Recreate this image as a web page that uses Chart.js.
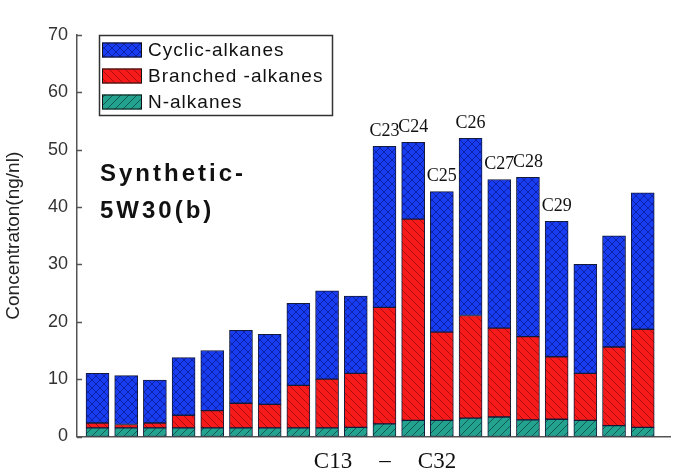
<!DOCTYPE html>
<html>
<head>
<meta charset="utf-8">
<script src="https://cdn.jsdelivr.net/npm/chart.js@4"></script>
<style>
  html, body { margin: 0; padding: 0; background: #fff; }
  #wrap { width: 678px; height: 475px; position: relative; }
</style>
</head>
<body>
<div id="wrap"><canvas id="chart"></canvas></div>
<script>
// Carbon numbers C13..C32
const categories = ['C13','C14','C15','C16','C17','C18','C19','C20','C21','C22',
                    'C23','C24','C25','C26','C27','C28','C29','C30','C31','C32'];

// Concentrations (ng/nl)
const nAlkanes = [1.5, 1.5, 1.5, 1.5, 1.5, 1.5, 1.5, 1.5, 1.5, 1.6,
                  2.2, 2.8, 2.8, 3.2, 3.4, 2.9, 3.0, 2.8, 1.9, 1.6];
const branchedAlkanes = [0.85, 0.6, 0.85, 2.2, 3.0, 4.3, 4.1, 7.4, 8.5, 9.4,
                         20.3, 35.1, 15.4, 17.9, 15.5, 14.5, 10.9, 8.2, 13.7, 17.1];
const cyclicAlkanes = [8.65, 8.5, 7.5, 10.05, 10.5, 12.7, 12.2, 14.3, 15.4, 13.5,
                       28.1, 13.4, 24.5, 30.9, 25.9, 27.8, 23.6, 19.0, 19.4, 23.8];

// labels written above some of the bars
const peakLabels = ['', '', '', '', '', '', '', '', '', '',
                    'C23', 'C24', 'C25', 'C26', 'C27', 'C28', 'C29', '', '', ''];

const yTicks = [0, 10, 20, 30, 40, 50, 60, 70];

// hatch patterns
function makePattern(bg, line, kind) {
    const s = 8;
    const c = document.createElement('canvas');
    c.width = s; c.height = s;
    const g = c.getContext('2d');
    g.fillStyle = bg;
    g.fillRect(0, 0, s, s);
    g.strokeStyle = line;
    g.lineWidth = 0.9;
    g.beginPath();
    if (kind === 'cross' || kind === 'back') {
        g.moveTo(-1, -1); g.lineTo(s + 1, s + 1);
    }
    if (kind === 'cross' || kind === 'fwd') {
        g.moveTo(-1, s + 1); g.lineTo(s + 1, -1);
    }
    g.stroke();
    return g.createPattern(c, 'repeat');
}

const blueFill = makePattern('#183cf0', '#0d1f9e', 'cross');
const redFill = makePattern('#f71a1a', '#a80c0c', 'back');
const tealFill = makePattern('#23a290', '#0f5249', 'fwd');

const toPoints = arr => arr.map((v, i) => ({ x: i, y: v }));

// draws legend box, in-plot title, peak labels, x title and inward ticks
const extras = {
    id: 'extras',
    afterDraw(chart) {
        const ctx = chart.ctx;
        const area = chart.chartArea;
        const y = chart.scales.y;
        ctx.save();

        // inward tick marks
        ctx.strokeStyle = '#555';
        ctx.lineWidth = 1.5;
        yTicks.forEach(v => {
            const py = Math.round(y.getPixelForValue(v)) + 0.5;
            ctx.beginPath();
            ctx.moveTo(area.left, py);
            ctx.lineTo(area.left + 5, py);
            ctx.stroke();
        });

        // peak labels
        const topMeta = chart.getDatasetMeta(0);
        ctx.fillStyle = '#111';
        ctx.font = '18px "Liberation Serif"';
        ctx.textAlign = 'center';
        ctx.textBaseline = 'bottom';
        peakLabels.forEach((t, i) => {
            if (!t) return;
            const bar = topMeta.data[i];
            ctx.fillText(t, bar.x, bar.y - 6);
        });

        // x axis title
        ctx.font = '23px "Liberation Serif"';
        ctx.textBaseline = 'middle';
        ctx.fillText('C13', 333, 462);
        ctx.fillText('\u2013', 385, 461);
        ctx.fillText('C32', 437, 462);

        // sample name
        ctx.font = 'bold 24px "Liberation Sans"';
        ctx.textAlign = 'left';
        ctx.textBaseline = 'alphabetic';
        ctx.letterSpacing = '3px';
        ctx.fillText('Synthetic-', 100, 181);
        ctx.fillText('5W30(b)', 100, 218);
        ctx.letterSpacing = '0px';

        // legend
        ctx.strokeStyle = '#333';
        ctx.lineWidth = 1.5;
        ctx.strokeRect(99.5, 35.5, 233, 80);
        const legendRows = [0, 1, 2];
        ctx.font = '19px "Liberation Sans"';
        ctx.letterSpacing = '1px';
        ctx.textBaseline = 'middle';
        legendRows.forEach(r => {
            const ds = chart.data.datasets[r];
            const top = 42.5 + r * 26;
            ctx.fillStyle = ds.backgroundColor;
            ctx.fillRect(102, top, 40, 15);
            ctx.lineWidth = 1;
            ctx.strokeStyle = '#111';
            ctx.strokeRect(102.5, top + 0.5, 39, 14);
            ctx.fillStyle = '#111';
            ctx.fillText(ds.label, 148, top + 8);
        });
        ctx.restore();
    }
};

new Chart(document.getElementById('chart'), {
    type: 'bar',
    data: {
        datasets: [
            { label: 'Cyclic-alkanes', data: toPoints(cyclicAlkanes), backgroundColor: blueFill, order: 3 },
            { label: 'Branched -alkanes', data: toPoints(branchedAlkanes), backgroundColor: redFill, order: 2 },
            { label: 'N-alkanes', data: toPoints(nAlkanes), backgroundColor: tealFill, order: 1 }
        ].map(d => Object.assign(d, {
            stack: 's',
            borderColor: '#141a3a',
            borderWidth: 1,
            borderSkipped: false,
            barThickness: 23
        }))
    },
    options: {
        responsive: true,
        maintainAspectRatio: false,
        animation: false,
        layout: { padding: { top: 35, right: 8, left: 0, bottom: 0 } },
        plugins: {
            legend: { display: false },
            tooltip: {
                callbacks: {
                    title: items => categories[items[0].parsed.x]
                }
            }
        },
        scales: {
            x: {
                type: 'linear',
                min: -0.714,
                max: 19.95,
                offset: false,
                bounds: 'data',
                stacked: true,
                grid: { display: false, drawTicks: false, offset: false },
                ticks: { display: false },
                border: { display: true, color: '#555', width: 1.5 },
                afterFit: s => { s.height = 38.5; }
            },
            y: {
                stacked: true,
                min: 0,
                max: 70,
                grid: { display: false, drawTicks: false },
                border: { display: true, color: '#555', width: 1.5 },
                afterBuildTicks: s => { s.ticks = yTicks.map(v => ({ value: v })); },
                ticks: {
                    padding: 9,
                    color: '#333',
                    font: { family: '"Liberation Sans"', size: 18 }
                },
                title: {
                    display: true,
                    text: 'Concentraton(ng/nl)',
                    color: '#222',
                    font: { family: '"Liberation Sans"', size: 19 },
                    padding: { top: 2, bottom: 0 }
                },
                afterFit: s => { s.width = 77; }
            }
        }
    },
    plugins: [extras]
});
</script>
</body>
</html>
